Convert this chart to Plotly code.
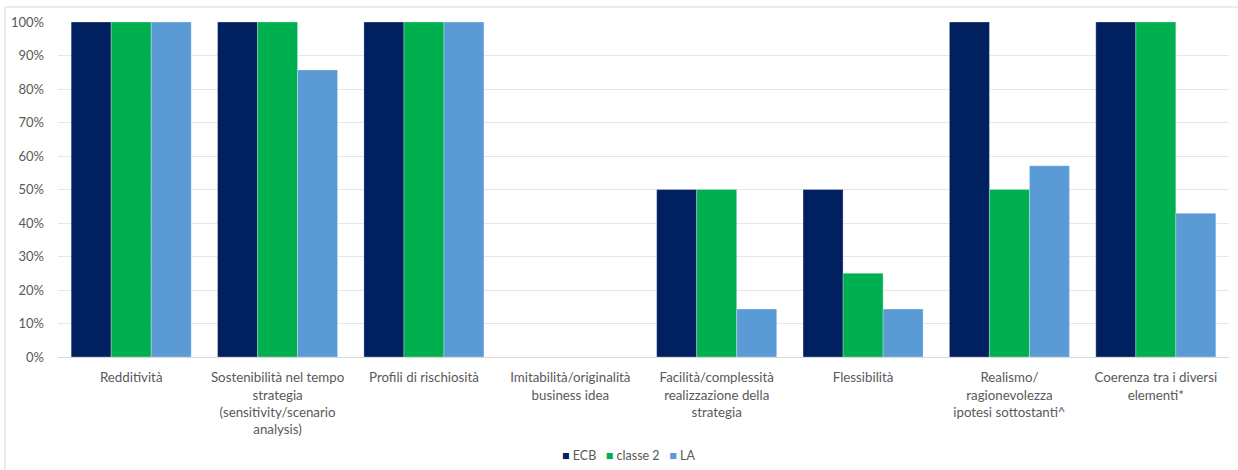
import plotly.graph_objects as go

categories = [
    "Redditività",
    "Sostenibilità nel tempo<br>strategia<br>(sensitivity/scenario<br>analysis)",
    "Profili di rischiosità",
    "Imitabilità/originalità<br>business idea",
    "Facilità/complessità<br>realizzazione della<br>strategia",
    "Flessibilità",
    "Realismo/<br>ragionevolezza<br>ipotesi sottostanti^",
    "Coerenza tra i diversi<br>elementi*",
]
ecb = [1.00, 1.00, 1.00, 0.00, 0.50, 0.50, 1.00, 1.00]
classe2 = [1.00, 1.00, 1.00, 0.00, 0.50, 0.25, 0.50, 1.00]
la = [1.00, 0.857, 1.00, 0.00, 0.143, 0.143, 0.571, 0.429]

series = [
    ("ECB", ecb, "#002060"),
    ("classe 2", classe2, "#00B050"),
    ("LA", la, "#5B9BD5"),
]

fig = go.Figure()
for name, vals, color in series:
    fig.add_trace(go.Bar(
        name=name, x=categories, y=vals,
        marker=dict(color=color, line=dict(color="rgba(255,255,255,0.35)", width=0.8)),
    ))

text_color = "#595959"
font_family = "Lato, Open Sans, sans-serif"

# Compact legend row drawn as text with coloured squares
legend_text = "&nbsp;&nbsp;&nbsp;".join(
    f'<span style="color:{color}">■</span> {name}' for name, _, color in series
)

fig.update_layout(
    width=1238, height=470,
    margin=dict(l=58, r=9, t=22, b=113, autoexpand=False),
    paper_bgcolor="white", plot_bgcolor="white",
    barmode="group", bargap=0.18, bargroupgap=0,
    font=dict(family=font_family, size=13, color=text_color),
    showlegend=False,
    xaxis=dict(showgrid=False, showline=False, ticks="", tickfont=dict(size=13.3),
               ticklabelstandoff=11),
    yaxis=dict(range=[0, 1], dtick=0.1, tickformat=".0%", showgrid=True,
               gridcolor="#e6e6e6", gridwidth=1, zeroline=True, zerolinecolor="#d9d9d9",
               zerolinewidth=1, showline=False, ticks="", tickfont=dict(size=13),
               ticklabelstandoff=13),
    annotations=[
        dict(text=legend_text, xref="paper", yref="paper", x=0.487, y=-0.295,
             xanchor="center", yanchor="middle", showarrow=False,
             font=dict(size=12.5, color=text_color)),
    ],
    shapes=[
        dict(type="line", xref="paper", yref="paper", x0=-0.0453, x1=1.02, y0=1.0448, y1=1.0448,
             line=dict(color="#d9d9d9", width=1)),
        dict(type="line", xref="paper", yref="paper", x0=-0.0453, x1=-0.0453, y0=1.0448, y1=-0.4,
             line=dict(color="#d9d9d9", width=1)),
    ],
)

fig.write_html("out.html")
